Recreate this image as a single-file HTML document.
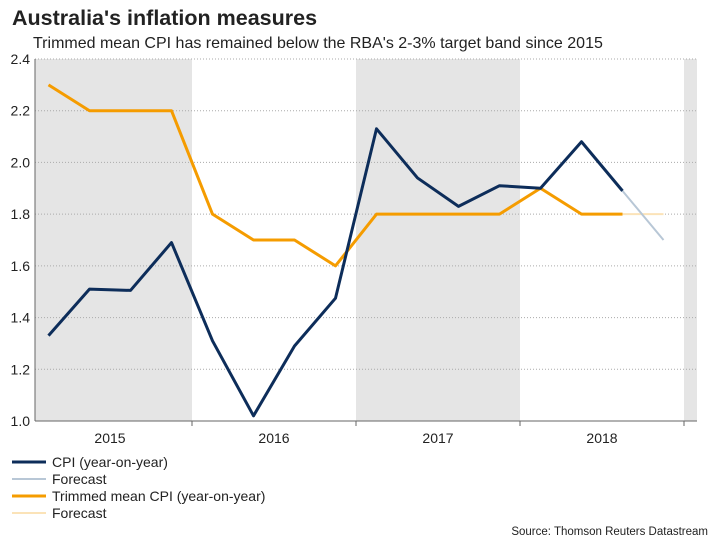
<!DOCTYPE html>
<html><head><meta charset="utf-8"><style>
body{margin:0;background:#fff;font-family:"Liberation Sans",sans-serif;}
svg text{font-family:"Liberation Sans",sans-serif;}
</style></head><body>
<svg id="c" width="719" height="539" xmlns="http://www.w3.org/2000/svg">
<text x="12" y="25" font-size="21.5" font-weight="bold" fill="#222">Australia's inflation measures</text>
<text x="33" y="48" font-size="16" fill="#222">Trimmed mean CPI has remained below the RBA's 2-3% target band since 2015</text>
<g id="bands"></g><g id="grid"></g><g id="lines"></g><g id="axes"></g>
<g font-size="14" fill="#222">
<line x1="12" y1="462" x2="46" y2="462" stroke="#0d2d5a" stroke-width="3"/><text x="52" y="467">CPI (year-on-year)</text>
<line x1="12" y1="479" x2="46" y2="479" stroke="#b8c7d6" stroke-width="2"/><text x="52" y="484">Forecast</text>
<line x1="12" y1="496" x2="46" y2="496" stroke="#f59c00" stroke-width="3"/><text x="52" y="501">Trimmed mean CPI (year-on-year)</text>
<line x1="12" y1="513" x2="46" y2="513" stroke="#fbe3b8" stroke-width="2"/><text x="52" y="518">Forecast</text>
</g>
<text x="708" y="535" font-size="11.5" text-anchor="end" fill="#222">Source: Thomson Reuters Datastream</text>
</svg>
<script>
const years=["2015","2016","2017","2018"];
const cpi=[1.33,1.51,1.505,1.69,1.31,1.02,1.29,1.475,2.13,1.94,1.83,1.91,1.90,2.08,1.89];
const cpiForecast=[1.89,1.70];
const trimmed=[2.3,2.2,2.2,2.2,1.8,1.7,1.7,1.6,1.8,1.8,1.8,1.8,1.9,1.8,1.8];
const trimmedForecast=[1.8,1.8];
const yTicks=[1.0,1.2,1.4,1.6,1.8,2.0,2.2,2.4];
const NS="http://www.w3.org/2000/svg";
const L=35,R=697,T=59,B=421,ymin=1.0,ymax=2.4,x0=28,qw=41;
const X=i=>x0+qw*(i+0.5);
const Y=v=>B-(v-ymin)/(ymax-ymin)*(B-T);
function mk(p,tag,a){const e=document.createElementNS(NS,tag);for(const k in a)e.setAttribute(k,a[k]);document.getElementById(p).appendChild(e);return e;}
for(let i=0;i<=years.length;i+=2){const xa=Math.max(L,x0+i*4*qw),xb=Math.min(R,x0+(i+1)*4*qw);
 if(xb>xa){const r=mk('bands','rect',{x:xa,y:T,width:xb-xa,height:B-T,fill:'#e5e5e5'});
 }}
yTicks.forEach(t=>{const g=mk('grid','line',{x1:L,x2:R,y1:Y(t),y2:Y(t),stroke:'#aaa','stroke-dasharray':'1,2','stroke-width':1});
 
 const tx=mk('axes','text',{x:L-5,y:Y(t)+5,'font-size':14,'text-anchor':'end',fill:'#222'});tx.textContent=t.toFixed(1);
 });
const ax=mk('axes','line',{x1:L,x2:L,y1:T,y2:B,stroke:'#666'});
const bx=mk('axes','line',{x1:L,x2:R,y1:B,y2:B,stroke:'#666'});
years.forEach((y,i)=>{const t=mk('axes','text',{x:x0+(i+0.5)*4*qw,y:443,'font-size':14,'text-anchor':'middle',fill:'#222'});t.textContent=y;
 });
for(let i=1;i<=4;i++){const tk=mk('axes','line',{x1:x0+i*4*qw,x2:x0+i*4*qw,y1:B,y2:B+5,stroke:'#666'});
 }
function line(vals,off,col,w,name){const p=mk('lines','polyline',{points:vals.map((v,i)=>X(i+off)+','+Y(v)).join(' '),fill:'none',stroke:col,'stroke-width':w,'stroke-linejoin':'round'});
 }
line(trimmedForecast,trimmed.length-1,'#fbe3b8',2,'trimmed-forecast-line');
line(cpiForecast,cpi.length-1,'#b8c7d6',2,'cpi-forecast-line');
line(trimmed,0,'#f59c00',3,'trimmed-mean-line');
line(cpi,0,'#0d2d5a',3,'cpi-line');
</script>
</body></html>
